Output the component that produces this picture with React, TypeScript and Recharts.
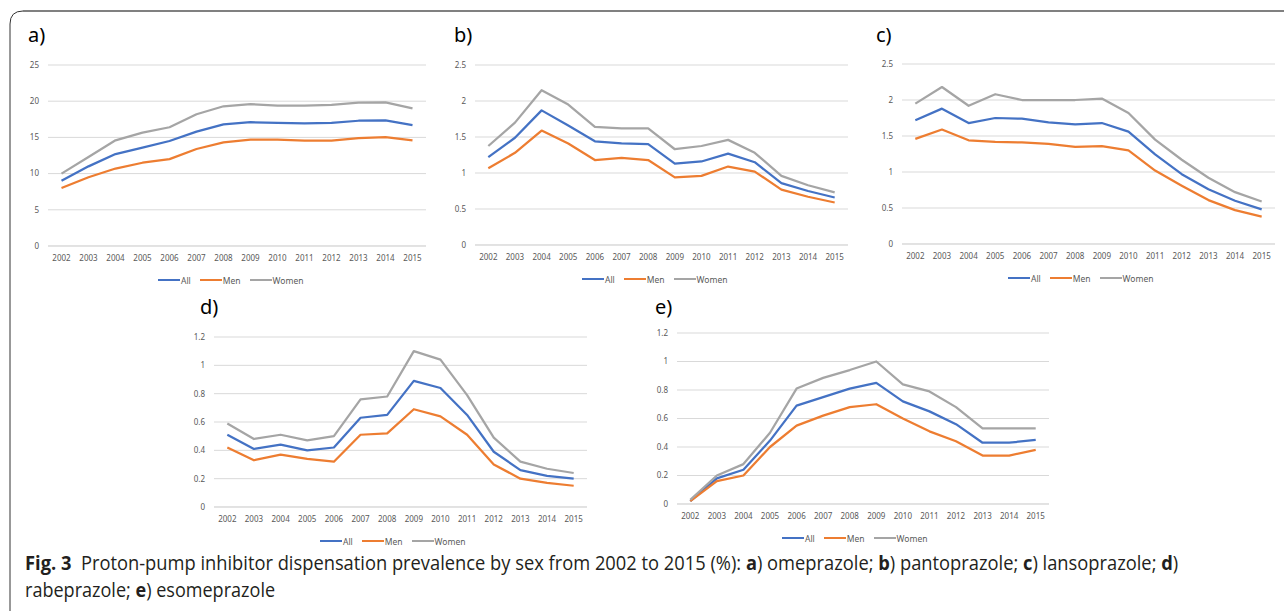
import React, { useLayoutEffect, useRef, useState } from "react";
import { LineChart, Line, XAxis, YAxis, CartesianGrid } from "recharts";

const years = ["2002","2003","2004","2005","2006","2007","2008","2009","2010","2011","2012","2013","2014","2015"];

const aAll = [9.0,11.0,12.7,13.6,14.5,15.8,16.8,17.1,17.0,16.95,17.0,17.3,17.35,16.7];
const aMen = [8.0,9.5,10.7,11.5,12.0,13.4,14.3,14.7,14.7,14.55,14.55,14.9,15.05,14.6];
const aWomen = [10.0,12.3,14.6,15.65,16.4,18.2,19.3,19.6,19.4,19.4,19.5,19.8,19.85,19.0];

const bAll = [1.22,1.49,1.87,1.66,1.44,1.41,1.40,1.13,1.16,1.27,1.15,0.86,0.75,0.66];
const bMen = [1.065,1.28,1.59,1.41,1.18,1.21,1.18,0.94,0.96,1.09,1.02,0.77,0.67,0.59];
const bWomen = [1.375,1.70,2.15,1.95,1.64,1.62,1.62,1.33,1.375,1.46,1.28,0.96,0.83,0.73];

const cAll = [1.72,1.88,1.68,1.75,1.74,1.69,1.66,1.68,1.56,1.245,0.97,0.76,0.60,0.48];
const cMen = [1.46,1.59,1.44,1.42,1.41,1.39,1.35,1.36,1.30,1.02,0.81,0.61,0.47,0.38];
const cWomen = [1.95,2.18,1.92,2.08,2.0,2.0,2.0,2.02,1.82,1.45,1.17,0.92,0.72,0.59];

const dAll = [0.51,0.41,0.44,0.40,0.42,0.63,0.65,0.89,0.84,0.65,0.39,0.26,0.22,0.20];
const dMen = [0.42,0.33,0.37,0.34,0.32,0.51,0.52,0.69,0.64,0.51,0.30,0.20,0.17,0.15];
const dWomen = [0.59,0.48,0.51,0.47,0.50,0.76,0.78,1.10,1.04,0.79,0.49,0.32,0.27,0.24];

const eAll = [0.02,0.18,0.24,0.445,0.69,0.75,0.81,0.85,0.72,0.65,0.56,0.43,0.43,0.45];
const eMen = [0.02,0.16,0.20,0.40,0.55,0.62,0.68,0.70,0.60,0.51,0.44,0.34,0.34,0.38];
const eWomen = [0.03,0.20,0.28,0.50,0.81,0.885,0.94,1.00,0.84,0.79,0.68,0.53,0.53,0.53];

const ticks25 = [0,5,10,15,20,25];
const ticks2p5 = [0,0.5,1,1.5,2,2.5];
const ticks1p2 = [0,0.2,0.4,0.6,0.8,1,1.2];

const seriesNames = ["All","Men","Women"];
const seriesColors = ["#4472C4","#ED7D31","#A5A5A5"];

const build = (all: number[], men: number[], women: number[]) =>
  years.map((y, i) => ({ year: y, All: all[i], Men: men[i], Women: women[i] }));

const TICK_FONT = "'Noto Sans', sans-serif";

type PanelProps = {
  data: any[];
  ticks: number[];
  left: number; top: number; right: number; bottom: number;
};

const YW = 40;
const MT = 10;
const MR = 5;
const XH = 30;

function Panel({ data, ticks, left, top, right, bottom }: PanelProps) {
  const pw = right - left;
  const ph = bottom - top;
  const w = pw + YW + MR;
  const h = ph + MT + XH;
  const pad = pw / 28;
  return (
    <div style={{ position: "absolute", left: left - YW, top: top - MT }}>
      <LineChart width={w} height={h} data={data} margin={{ top: MT, right: MR, left: 0, bottom: 0 }}>
        <CartesianGrid vertical={false} stroke="#D9D9D9" strokeWidth={1} />
        <XAxis
          dataKey="year"
          height={XH}
          tickLine={false}
          tickSize={0}
          tickMargin={9}
          axisLine={{ stroke: "#D9D9D9" }}
          padding={{ left: pad, right: pad }}
          interval={0}
          tick={{ fill: "#595959", fontSize: 8, fontFamily: TICK_FONT }}
        />
        <YAxis
          width={YW}
          domain={[ticks[0], ticks[ticks.length - 1]]}
          ticks={ticks}
          tickLine={false}
          axisLine={false}
          tickSize={0}
          tickMargin={9}
          interval={0}
          tick={{ fill: "#595959", fontSize: 8, fontFamily: TICK_FONT }}
        />
        {seriesNames.map((s, i) => (
          <Line
            key={s}
            dataKey={s}
            stroke={seriesColors[i]}
            strokeWidth={2.25}
            dot={false}
            activeDot={false}
            isAnimationActive={false}
            strokeLinejoin="round"
          />
        ))}
      </LineChart>
    </div>
  );
}

function Legend({ x, y }: { x: number; y: number }) {
  return (
    <div style={{ position: "absolute", left: x, top: y - 7, height: 14, display: "flex", alignItems: "center", fontFamily: TICK_FONT, fontSize: 8.5, color: "#595959", whiteSpace: "nowrap" }}>
      {seriesNames.map((s, i) => (
        <div key={s} style={{ display: "flex", alignItems: "center", marginRight: 9 }}>
          <div style={{ width: 22, height: 2.5, background: seriesColors[i], marginRight: 1 }} />
          <span>{s}</span>
        </div>
      ))}
    </div>
  );
}

const labelStyle = (x: number, y: number): React.CSSProperties => ({
  position: "absolute", left: x, top: y - 20, fontFamily: "'Noto Sans', sans-serif", fontSize: 20, lineHeight: "24px", color: "#000",
});

function FitLine({ x, baseline, width, children }: { x: number; baseline: number; width: number; children: React.ReactNode }) {
  const ref = useRef<HTMLDivElement>(null);
  const [k, setK] = useState(1);
  useLayoutEffect(() => {
    if (ref.current) {
      const w = ref.current.scrollWidth;
      if (w > 0) setK(width / w);
    }
  }, [width]);
  return (
    <div
      ref={ref}
      style={{
        position: "absolute", left: x, top: baseline - 21, height: 28, lineHeight: "28px",
        fontFamily: "'Open Sans', sans-serif", fontSize: 20, color: "#231F20", whiteSpace: "pre",
        transform: `scaleX(${k})`, transformOrigin: "0 0", display: "inline-block",
      }}
    >
      {children}
    </div>
  );
}

export default function App() {
  return (
    <div style={{ position: "absolute", left: 0, top: 0, width: 1284, height: 611, background: "#fff", overflow: "hidden" }}>
      <svg width={1284} height={611} style={{ position: "absolute", left: 0, top: 0 }}>
        <path d="M 10 620 L 10 24 Q 10 11 23 11" fill="none" stroke="#333" strokeWidth={1} />
        <path d="M 23 11 L 1290 11" fill="none" stroke="#808080" strokeWidth={2} />
      </svg>

      <FitLine x={25} baseline={570} width={1153}>
        <b>Fig. 3</b>{"  Proton-pump inhibitor dispensation prevalence by sex from 2002 to 2015 (%): "}<b>a</b>{") omeprazole; "}<b>b</b>{") pantoprazole; "}<b>c</b>{") lansoprazole; "}<b>d</b>{")"}
      </FitLine>
      <FitLine x={25} baseline={597} width={250}>
        {"rabeprazole; "}<b>e</b>{") esomeprazole"}
      </FitLine>

      <div style={labelStyle(28, 43)}>a)</div>
      <div style={labelStyle(454, 43)}>b)</div>
      <div style={labelStyle(876, 43)}>c)</div>
      <div style={labelStyle(200, 315)}>d)</div>
      <div style={labelStyle(655, 315)}>e)</div>

      <Panel data={build(aAll, aMen, aWomen)} ticks={ticks25} left={48} top={65} right={426} bottom={246} />
      <Panel data={build(bAll, bMen, bWomen)} ticks={ticks2p5} left={475} top={65} right={848} bottom={245} />
      <Panel data={build(cAll, cMen, cWomen)} ticks={ticks2p5} left={902} top={64} right={1275} bottom={244} />
      <Panel data={build(dAll, dMen, dWomen)} ticks={ticks1p2} left={214} top={337} right={587} bottom={507} />
      <Panel data={build(eAll, eMen, eWomen)} ticks={ticks1p2} left={677} top={333} right={1049} bottom={504} />

      <Legend x={158} y={280} />
      <Legend x={582} y={279} />
      <Legend x={1008} y={278} />
      <Legend x={320} y={541} />
      <Legend x={782} y={538} />
    </div>
  );
}
